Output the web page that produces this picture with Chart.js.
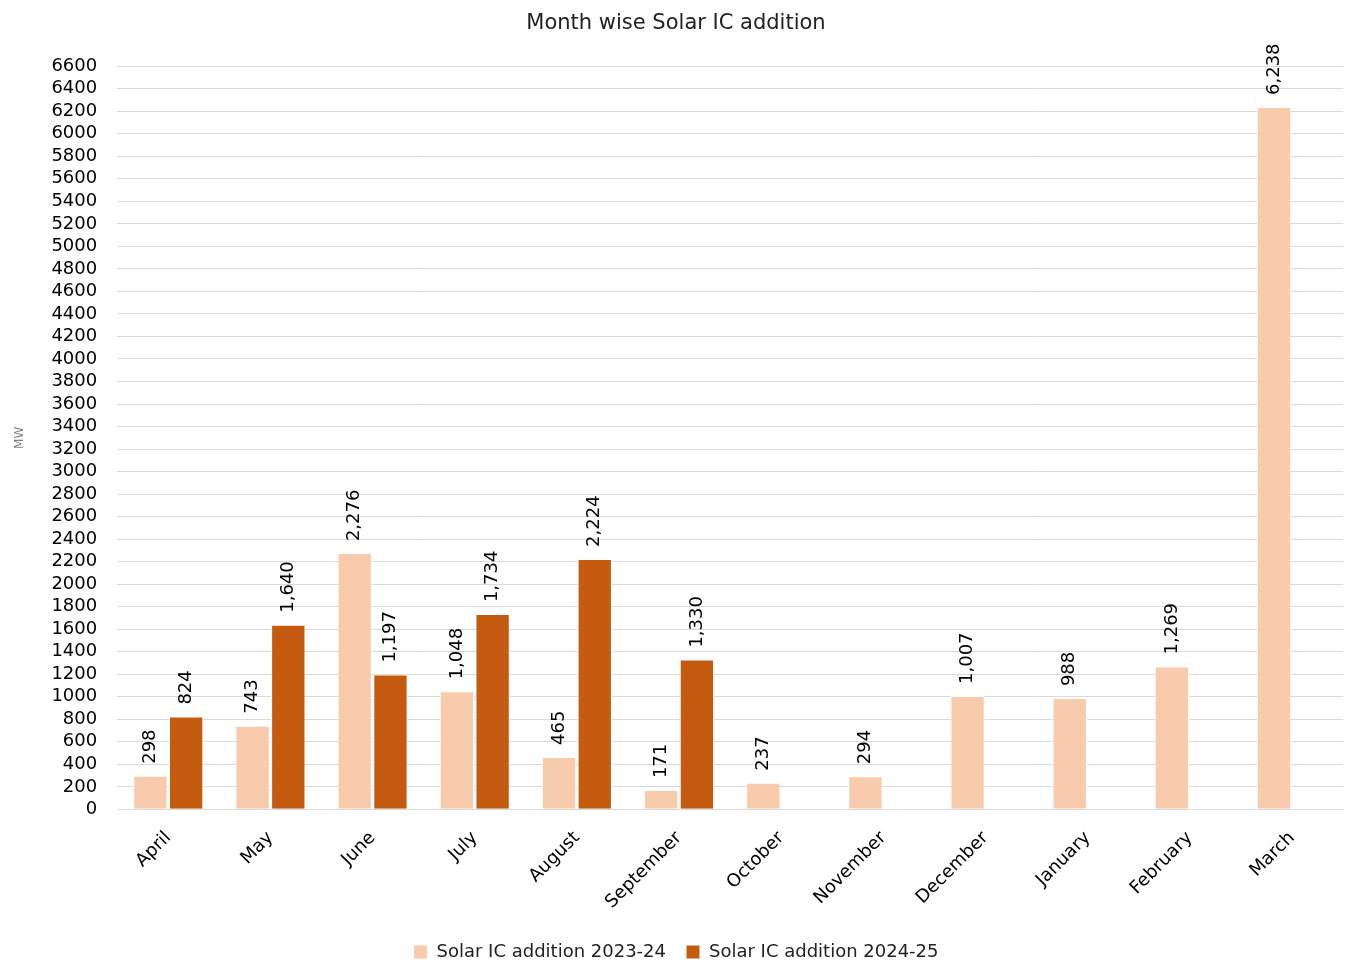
<!DOCTYPE html>
<html>
<head>
<meta charset="utf-8">
<script src="https://cdn.jsdelivr.net/npm/chart.js@4.4.1/dist/chart.umd.min.js"></script>
<style>
  html, body { margin: 0; padding: 0; background: #fff; }
  #wrap { width: 1352px; height: 971px; }
</style>
</head>
<body>
<div id="wrap"><canvas id="solarChart" width="1352" height="971"></canvas></div>
<script>
// dados do gráfico
const months = ['April', 'May', 'June', 'July', 'August', 'September', 'October', 'November', 'December', 'January', 'February', 'March'];
const addition2324 = [298, 743, 2276, 1048, 465, 171, 237, 294, 1007, 988, 1269, 6238];
const addition2425 = [824, 1640, 1197, 1734, 2224, 1330, null, null, null, null, null, null];
const seriesNames = ['Solar IC addition 2023-24', 'Solar IC addition 2024-25'];
const yMax = 6600;
const yStep = 200;

const fontFamily = '"DejaVu Sans", Verdana, sans-serif';

// rótulos verticais acima das barras
const barLabels = {
    id: 'barLabels',
    afterDatasetsDraw(chart) {
        const ctx = chart.ctx;
        ctx.save();
        ctx.font = '18px ' + fontFamily;
        ctx.fillStyle = '#000';
        ctx.textAlign = 'left';
        ctx.textBaseline = 'middle';
        chart.data.datasets.forEach((ds, i) => {
            const meta = chart.getDatasetMeta(i);
            meta.data.forEach((bar, j) => {
                const v = ds.data[j];
                if (v === null || v === undefined) return;
                ctx.save();
                ctx.translate(bar.x, bar.y - 12);
                ctx.rotate(-Math.PI / 2);
                ctx.fillText(v.toLocaleString('en-US'), 0, 0);
                ctx.restore();
            });
        });
        ctx.restore();
    }
};

const ctx = document.getElementById('solarChart').getContext('2d');
const myChart = new Chart(ctx, {
    type: 'bar',
    data: {
        labels: months,
        datasets: [{
            label: seriesNames[0],
            data: addition2324,
            backgroundColor: '#F8CBAD',
            borderColor: '#ffffff',
            borderWidth: 1,
            categoryPercentage: 0.7,
            barPercentage: 0.96
        }, {
            label: seriesNames[1],
            data: addition2425,
            backgroundColor: '#C55A11',
            borderColor: '#ffffff',
            borderWidth: 1,
            categoryPercentage: 0.7,
            barPercentage: 0.96
        }]
    },
    options: {
        responsive: false,
        animation: false,
        layout: { padding: { top: 4, right: 9, left: 9, bottom: 0 } },
        scales: {
            x: {
                grid: { display: false },
                border: { color: '#d9d9d9' },
                ticks: {
                    color: '#000',
                    font: { family: fontFamily, size: 18 },
                    minRotation: 45,
                    maxRotation: 45,
                    autoSkip: false,
                    padding: 10
                }
            },
            y: {
                min: 0,
                max: yMax,
                grid: { color: '#d9d9d9', drawTicks: false },
                border: { display: false },
                ticks: {
                    stepSize: yStep,
                    autoSkip: false,
                    color: '#000',
                    padding: 20,
                    font: { family: fontFamily, size: 18 },
                    callback: function(value) {
                        return String(value);
                    }
                },
                title: {
                    display: true,
                    text: 'MW',
                    color: '#808080',
                    font: { family: fontFamily, size: 12 }
                }
            }
        },
        plugins: {
            title: {
                display: true,
                text: 'Month wise Solar IC addition',
                color: '#222',
                font: { family: fontFamily, size: 21, weight: 'normal' },
                padding: { top: 7, bottom: 30 }
            },
            legend: {
                position: 'bottom',
                labels: {
                    color: '#222',
                    font: { family: fontFamily, size: 18 },
                    boxWidth: 14,
                    boxHeight: 14,
                    padding: 20
                }
            },
            tooltip: { enabled: false }
        }
    },
    plugins: [barLabels]
});
</script>
</body>
</html>
